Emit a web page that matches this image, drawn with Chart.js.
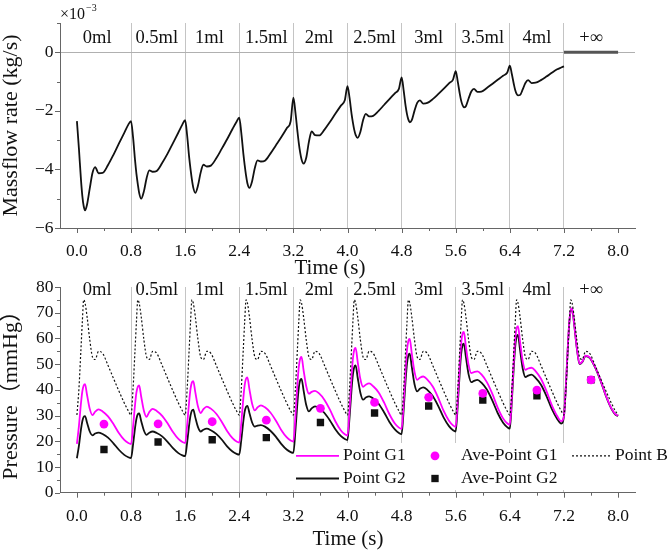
<!DOCTYPE html>
<html>
<head>
<meta charset="utf-8">
<script src="https://cdn.jsdelivr.net/npm/chart.js@4.4.1/dist/chart.umd.min.js"></script>
<style>
  html, body { margin: 0; padding: 0; background: #fff; }
  #wrap { position: relative; width: 669px; height: 554px; overflow: hidden; }
  canvas { position: absolute; left: 0; }
  #top { top: 0; }
  #bottom { top: 270px; }
</style>
</head>
<body>
<div id="wrap">
  <canvas id="top" width="669" height="284"></canvas>
  <canvas id="bottom" width="669" height="284"></canvas>
</div>
<script>
// sample phases inside one 0.8 s cardiac cycle, and where each cycle starts
const phase = [0, 0.03, 0.06, 0.08, 0.10, 0.12, 0.15, 0.19, 0.23, 0.27, 0.32, 0.38, 0.46, 0.54, 0.62, 0.70, 0.76];
const cycleStart = [0, 0.8, 1.6, 2.4, 3.2, 4.0, 4.8, 5.6, 6.4, 7.2];
const sections = ['0ml', '0.5ml', '1ml', '1.5ml', '2ml', '2.5ml', '3ml', '3.5ml', '4ml', '+\u221e'];
const sectionAt = [0.3, 1.18, 1.96, 2.8, 3.58, 4.4, 5.2, 6.0, 6.8, 7.6];
const timeTicks = [0, 0.8, 1.6, 2.4, 3.2, 4.0, 4.8, 5.6, 6.4, 7.2, 8.0];
const timeMinor = [0.4, 1.2, 2.0, 2.8, 3.6, 4.4, 5.2, 6.0, 6.8, 7.6];

// massflow rate (x1e-3 kg/s), one row per cycle, last value = end of 4ml cycle
const massflow = [
  -2.35, -3.3, -4.35, -4.9, -5.25, -5.4, -5.2, -4.65, -4.12, -3.92, -4.13, -4.12, -3.85, -3.5, -3.12, -2.75, -2.47,
  -2.35, -2.9, -3.7, -4.15, -4.5, -4.8, -5.0, -4.75, -4.3, -4.03, -4.08, -4.05, -3.78, -3.46, -3.1, -2.74, -2.46,
  -2.32, -2.85, -3.6, -4.0, -4.35, -4.62, -4.8, -4.55, -4.1, -3.84, -3.9, -3.87, -3.62, -3.3, -2.97, -2.62, -2.37,
  -2.23, -2.75, -3.45, -3.85, -4.2, -4.47, -4.63, -4.4, -3.95, -3.69, -3.73, -3.7, -3.46, -3.18, -2.9, -2.6, -2.35,
  -1.55, -2.05, -2.7, -3.1, -3.42, -3.65, -3.8, -3.6, -3.05, -2.7, -2.83, -2.84, -2.64, -2.38, -2.1, -1.83, -1.64,
  -1.16, -1.55, -2.1, -2.4, -2.65, -2.82, -2.92, -2.72, -2.32, -2.1, -2.19, -2.17, -2.0, -1.8, -1.6, -1.4, -1.25,
  -0.86, -1.3, -1.85, -2.12, -2.3, -2.39, -2.32, -2.0, -1.73, -1.64, -1.75, -1.73, -1.6, -1.43, -1.25, -1.06, -0.93,
  -0.64, -1.0, -1.42, -1.65, -1.8, -1.88, -1.84, -1.58, -1.34, -1.25, -1.35, -1.34, -1.22, -1.08, -0.94, -0.8, -0.7,
  -0.46, -0.75, -1.1, -1.3, -1.42, -1.47, -1.46, -1.27, -1.05, -0.95, -1.05, -1.04, -0.95, -0.83, -0.7, -0.58, -0.52,
  -0.48
];
const infTime = [7.2, 8.0];
const infFlow = [0, 0];

// pressure (mmHg), one row per cycle, last value at 8.0 s
const g1 = [
  19.0, 26.0, 34.8, 39.4, 41.7, 42.2, 38.0, 32.6, 30.2, 31.5, 32.4, 31.6, 29.7, 26.7, 23.2, 20.5, 19.3,
  18.9, 25.7, 34.4, 39.0, 41.2, 41.7, 37.4, 31.9, 29.5, 31.4, 32.6, 31.8, 29.9, 27.0, 23.6, 20.9, 19.7,
  19.3, 26.5, 35.7, 40.5, 42.9, 43.4, 39.1, 33.5, 31.0, 32.5, 33.5, 32.7, 30.7, 27.6, 24.0, 21.2, 19.9,
  19.5, 27.1, 36.7, 41.8, 44.3, 44.8, 40.3, 34.6, 32.0, 33.2, 34.0, 33.2, 31.2, 28.1, 24.4, 21.6, 20.3,
  19.9, 29.8, 42.3, 48.9, 52.1, 52.8, 47.8, 41.4, 38.5, 39.2, 39.6, 38.6, 36.1, 32.3, 27.8, 24.3, 22.7,
  22.2, 32.4, 45.4, 52.2, 55.6, 56.3, 51.0, 44.2, 41.2, 42.0, 42.5, 41.4, 39.0, 35.1, 30.5, 26.9, 25.3,
  24.8, 35.3, 48.6, 55.6, 59.1, 59.8, 54.2, 47.1, 43.9, 44.7, 45.2, 44.0, 41.3, 37.0, 31.9, 28.0, 26.2,
  25.6, 36.7, 50.7, 58.1, 61.8, 62.5, 56.9, 49.7, 46.5, 46.9, 47.2, 46.0, 43.0, 38.5, 33.1, 28.9, 27.0,
  26.4, 37.9, 52.5, 60.1, 64.0, 64.8, 58.9, 51.2, 47.8, 48.3, 48.6, 47.3, 44.3, 39.6, 34.1, 29.8, 27.8,
  29.9, 42.5, 58.4, 66.8, 71.0, 71.8, 66.0, 56.5, 50.2, 51.0, 53.3, 52.6, 48.9, 43.8, 37.8, 32.9, 30.6,
  29.9
];
const g2 = [
  13.4, 18.3, 24.6, 27.8, 29.5, 29.8, 27.2, 23.8, 22.3, 23.0, 23.4, 22.8, 21.4, 19.2, 16.7, 14.7, 13.8,
  13.5, 18.7, 25.3, 28.7, 30.5, 30.8, 27.9, 24.2, 22.5, 23.3, 23.8, 23.2, 21.9, 19.8, 17.3, 15.4, 14.5,
  14.2, 19.6, 26.5, 30.1, 31.9, 32.3, 29.3, 25.5, 23.8, 24.5, 24.9, 24.3, 22.9, 20.7, 18.0, 16.0, 15.1,
  14.8, 20.5, 27.7, 31.5, 33.4, 33.8, 31.0, 27.3, 25.7, 26.1, 26.3, 25.7, 24.1, 21.8, 19.0, 16.8, 15.8,
  15.5, 24.1, 35.1, 40.8, 43.7, 44.3, 39.9, 34.1, 31.6, 32.8, 33.6, 32.8, 31.0, 28.1, 24.7, 22.1, 20.9,
  20.5, 29.2, 40.2, 46.0, 48.9, 49.5, 44.8, 38.9, 36.2, 37.0, 37.5, 36.6, 34.6, 31.3, 27.5, 24.6, 23.2,
  22.8, 32.2, 44.1, 50.3, 53.5, 54.1, 49.0, 42.3, 39.4, 40.4, 41.0, 40.0, 37.6, 33.8, 29.3, 25.9, 24.3,
  23.8, 34.1, 47.1, 53.9, 57.3, 58.0, 52.8, 46.0, 43.0, 43.5, 43.9, 42.8, 40.1, 35.9, 31.0, 27.2, 25.5,
  24.9, 35.9, 49.7, 57.0, 60.7, 61.4, 55.7, 48.3, 45.0, 45.5, 45.9, 44.7, 42.0, 37.7, 32.6, 28.7, 26.9,
  29.9, 42.3, 58.1, 66.5, 70.7, 71.5, 65.7, 56.2, 50.0, 50.8, 53.1, 52.4, 48.7, 43.6, 37.6, 32.7, 30.4,
  29.8
];
const pointB = [
  30.2, 40.5, 56.0, 66.5, 75.0, 73.8, 68.5, 59.5, 52.8, 51.8, 55.0, 54.2, 49.5, 44.5, 39.6, 34.9, 31.8,
  30.2, 40.5, 56.0, 66.5, 75.0, 73.8, 68.5, 59.5, 52.8, 51.8, 55.0, 54.2, 49.5, 44.5, 39.6, 34.9, 31.8,
  30.2, 40.5, 56.0, 66.5, 75.0, 73.8, 68.5, 59.5, 52.8, 51.8, 55.0, 54.2, 49.5, 44.5, 39.6, 34.9, 31.8,
  30.2, 40.5, 56.0, 66.5, 75.0, 73.8, 68.5, 59.5, 52.8, 51.8, 55.0, 54.2, 49.5, 44.5, 39.6, 34.9, 31.8,
  30.2, 40.5, 56.0, 66.5, 75.0, 73.8, 68.5, 59.5, 52.8, 51.8, 55.0, 54.2, 49.5, 44.5, 39.6, 34.9, 31.8,
  30.2, 40.5, 56.0, 66.5, 75.0, 73.8, 68.5, 59.5, 52.8, 51.8, 55.0, 54.2, 49.5, 44.5, 39.6, 34.9, 31.8,
  30.2, 40.5, 56.0, 66.5, 75.0, 73.8, 68.5, 59.5, 52.8, 51.8, 55.0, 54.2, 49.5, 44.5, 39.6, 34.9, 31.8,
  30.2, 40.5, 56.0, 66.5, 75.0, 73.8, 68.5, 59.5, 52.8, 51.8, 55.0, 54.2, 49.5, 44.5, 39.6, 34.9, 31.8,
  30.2, 40.5, 56.0, 66.5, 75.0, 73.8, 68.5, 59.5, 52.8, 51.8, 55.0, 54.2, 49.5, 44.5, 39.6, 34.9, 31.8,
  30.2, 40.5, 56.0, 66.5, 75.0, 73.8, 68.5, 59.5, 52.8, 51.8, 55.0, 54.2, 49.5, 44.5, 39.6, 34.9, 31.8,
  30.2
];
const aveTime = [0.4, 1.2, 2.0, 2.8, 3.6, 4.4, 5.2, 6.0, 6.8, 7.6];
const aveG1 = [26.7, 26.8, 27.6, 28.2, 32.8, 35.1, 37.1, 38.6, 39.9, 43.9];
const aveG2 = [16.8, 19.7, 20.6, 21.4, 27.3, 31.0, 33.7, 36.0, 37.7, 43.9];

const FONT = "'Liberation Serif', 'Times New Roman', 'Noto Sans CJK SC', serif";
const MAGENTA = '#ff00ff';
const axisColor = '#666';
const sepColor = '#c4c4c4';

Chart.defaults.font.family = FONT;
Chart.defaults.color = '#111';

const flowTime = cycleStart.slice(0, 9).flatMap(c => phase.map(p => +(c + p).toFixed(3))).concat([7.2]);
const presTime = cycleStart.flatMap(c => phase.map(p => +(c + p).toFixed(3))).concat([8.0]);
const toXY = (xs, ys) => xs.map((x, i) => ({ x: x, y: ys[i] }));

// short/long tick marks drawn outside the axes
const tickMarks = {
  id: 'tickMarks',
  afterDraw(chart, args, o) {
    const { ctx, chartArea } = chart;
    const xs = chart.scales.x, ys = chart.scales.y;
    ctx.save();
    ctx.strokeStyle = axisColor;
    ctx.lineWidth = 1;
    ctx.beginPath();
    const vx = (v, len) => {
      const px = Math.round(xs.getPixelForValue(v)) + 0.5;
      ctx.moveTo(px, chartArea.bottom);
      ctx.lineTo(px, chartArea.bottom + len);
    };
    const vy = (v, len) => {
      const py = Math.round(ys.getPixelForValue(v)) + 0.5;
      ctx.moveTo(chartArea.left, py);
      ctx.lineTo(chartArea.left - len, py);
    };
    o.xMajor.forEach(v => vx(v, 5));
    o.xMinor.forEach(v => vx(v, 3));
    o.yMajor.forEach(v => vy(v, 5));
    o.yMinor.forEach(v => vy(v, 3));
    ctx.stroke();
    ctx.restore();
  }
};

const sectionLabels = {
  id: 'sectionLabels',
  afterDraw(chart, args, o) {
    const { ctx, chartArea } = chart;
    const xs = chart.scales.x;
    ctx.save();
    ctx.font = '18.5px ' + FONT;
    ctx.fillStyle = '#111';
    ctx.textAlign = 'center';
    ctx.textBaseline = 'middle';
    sections.forEach((s, i) => ctx.fillText(s, xs.getPixelForValue(sectionAt[i]), chartArea.top + o.offset));
    ctx.restore();
  }
};

const xTitle = {
  id: 'xTitle',
  afterDraw(chart, args, o) {
    const ctx = chart.ctx;
    ctx.save();
    ctx.font = '21px ' + FONT;
    ctx.fillStyle = '#111';
    ctx.textAlign = 'center';
    ctx.textBaseline = 'middle';
    ctx.fillText('Time (s)', o.x, o.y);
    ctx.restore();
  }
};

const sciLabel = {
  id: 'sciLabel',
  afterDraw(chart) {
    const ctx = chart.ctx;
    ctx.save();
    ctx.fillStyle = '#111';
    ctx.textAlign = 'left';
    ctx.textBaseline = 'middle';
    ctx.font = '16px ' + FONT;
    ctx.fillText('\u00d710', 60, 15);
    ctx.font = '10px ' + FONT;
    ctx.fillText('\u22123', 86, 8);
    ctx.restore();
  }
};

const legendBox = {
  id: 'legendBox',
  beforeDatasetsDraw(chart, args, o) {
    const ctx = chart.ctx;
    ctx.save();
    ctx.fillStyle = '#fff';
    ctx.fillRect(o.box[0], o.box[1], o.box[2], o.box[3]);
    ctx.restore();
  },
  afterDraw(chart, args, o) {
    const ctx = chart.ctx;
    ctx.save();
    ctx.font = o.size + 'px ' + FONT;
    ctx.textBaseline = 'middle';
    ctx.textAlign = 'left';
    o.items.forEach(it => {
      const ds = chart.data.datasets[it.ds];
      const x = it.at[0], y = it.at[1];
      if (ds.showLine === false) {
        ctx.fillStyle = ds.backgroundColor;
        if (ds.pointStyle === 'rect') {
          const s = ds.pointRadius * Math.SQRT1_2;
          ctx.fillRect(x - s, y - s, 2 * s, 2 * s);
        } else {
          ctx.beginPath();
          ctx.arc(x, y, ds.pointRadius, 0, Math.PI * 2);
          ctx.fill();
        }
      } else {
        ctx.strokeStyle = ds.borderColor;
        ctx.lineWidth = ds.borderWidth;
        ctx.setLineDash(ds.borderDash || []);
        ctx.beginPath();
        ctx.moveTo(x, y);
        ctx.lineTo(x + it.len, y);
        ctx.stroke();
        ctx.setLineDash([]);
      }
      ctx.fillStyle = '#111';
      ctx.fillText(ds.label, it.textX, y);
    });
    ctx.restore();
  }
};

function xScale(height) {
  return {
    type: 'linear',
    min: -0.25,
    max: 8.25,
    afterBuildTicks: s => { s.ticks = timeTicks.map(v => ({ value: v })); },
    afterFit: s => { s.height = height; },
    ticks: { callback: v => v.toFixed(1), padding: 13, font: { size: 17.5 }, color: '#111', maxRotation: 0, autoSkip: false },
    grid: {
      drawTicks: false,
      lineWidth: 1,
      color: c => (c.tick && c.tick.value > 0.1 && c.tick.value < 7.9) ? sepColor : 'rgba(0,0,0,0)'
    },
    border: { display: true, color: axisColor, width: 1 },
    title: { display: false }
  };
}

// upper panel: massflow rate
new Chart(document.getElementById('top'), {
  type: 'line',
  data: {
    datasets: [
      { label: 'Massflow', data: toXY(flowTime, massflow), borderColor: '#111', borderWidth: 1.8, pointRadius: 0, cubicInterpolationMode: 'monotone' },
      { label: '+\u221e', data: toXY(infTime, infFlow), borderColor: '#555', borderWidth: 3, pointRadius: 0 }
    ]
  },
  options: {
    responsive: false,
    animation: false,
    devicePixelRatio: 1,
    layout: { padding: { left: 0, right: 34, top: 23, bottom: 0 } },
    plugins: {
      legend: { display: false },
      tooltip: { enabled: false },
      tickMarks: { xMajor: timeTicks, xMinor: timeMinor, yMajor: [-6, -4, -2, 0], yMinor: [-5, -3, -1, 1] },
      sectionLabels: { offset: 15.3 },
      xTitle: { x: 330, y: 268.3 }
    },
    scales: {
      x: xScale(56),
      y: {
        type: 'linear',
        min: -6,
        max: 1,
        afterBuildTicks: s => { s.ticks = [-6, -4, -2, 0].map(v => ({ value: v })); },
        afterFit: s => { s.width = 60; },
        ticks: { callback: v => v < 0 ? '\u2212' + Math.abs(v) : String(v), padding: 6.5, font: { size: 17.5 }, color: '#111' },
        grid: { drawTicks: false, color: c => (c.tick && c.tick.value === 0) ? '#b0b0b0' : 'rgba(0,0,0,0)' },
        border: { display: true, color: axisColor, width: 1 },
        title: { display: true, text: 'Massflow rate (kg/s)', font: { size: 22, lineHeight: 1 }, padding: 0, color: '#111' }
      }
    }
  },
  plugins: [tickMarks, sectionLabels, xTitle, sciLabel]
});

// lower panel: pressure
new Chart(document.getElementById('bottom'), {
  type: 'line',
  data: {
    datasets: [
      { label: 'Point G1', data: toXY(presTime, g1), borderColor: MAGENTA, borderWidth: 1.8, pointRadius: 0, cubicInterpolationMode: 'monotone', order: 2 },
      { label: 'Ave-Point G1', data: toXY(aveTime, aveG1), showLine: false, pointStyle: 'circle', pointRadius: 4.4, backgroundColor: MAGENTA, borderColor: MAGENTA, pointBorderWidth: 0, order: 0 },
      { label: 'Point B', data: toXY(presTime, pointB), borderColor: '#111', borderWidth: 1.2, borderDash: [2, 2], pointRadius: 0, cubicInterpolationMode: 'monotone', order: 1 },
      { label: 'Point G2', data: toXY(presTime, g2), borderColor: '#111', borderWidth: 1.8, pointRadius: 0, cubicInterpolationMode: 'monotone', order: 3 },
      { label: 'Ave-Point G2', data: toXY(aveTime, aveG2), showLine: false, pointStyle: 'rect', pointRadius: 5.2, backgroundColor: '#111', borderColor: '#111', pointBorderWidth: 0, order: 0.5 }
    ]
  },
  options: {
    responsive: false,
    animation: false,
    devicePixelRatio: 1,
    layout: { padding: { left: 0, right: 34, top: 17, bottom: 0 } },
    plugins: {
      legend: { display: false },
      tooltip: { enabled: false },
      tickMarks: { xMajor: timeTicks, xMinor: timeMinor, yMajor: [0, 10, 20, 30, 40, 50, 60, 70, 80], yMinor: [5, 15, 25, 35, 45, 55, 65, 75] },
      sectionLabels: { offset: 3.5 },
      xTitle: { x: 348, y: 269.3 },
      legendBox: {
        box: [290, 173, 379, 47],
        size: 17.5,
        items: [
          { ds: 0, at: [296, 185.8], len: 43, textX: 343 },
          { ds: 1, at: [435, 185.8], textX: 461 },
          { ds: 2, at: [572, 185.8], len: 39, textX: 615 },
          { ds: 3, at: [296, 208.5], len: 43, textX: 343 },
          { ds: 4, at: [435, 208.5], textX: 461 }
        ]
      }
    },
    scales: {
      x: xScale(61.3),
      y: {
        type: 'linear',
        min: 0,
        max: 80,
        afterBuildTicks: s => { s.ticks = [0, 10, 20, 30, 40, 50, 60, 70, 80].map(v => ({ value: v })); },
        afterFit: s => { s.width = 60; },
        ticks: { padding: 6.5, font: { size: 17.5 }, color: '#111' },
        grid: { drawTicks: false, color: 'rgba(0,0,0,0)' },
        border: { display: true, color: axisColor, width: 1 },
        title: { display: true, text: 'Pressure\uff08mmHg\uff09', font: { size: 22, lineHeight: 1 }, padding: 0, color: '#111' }
      }
    }
  },
  plugins: [tickMarks, sectionLabels, xTitle, legendBox]
});
</script>
</body>
</html>
